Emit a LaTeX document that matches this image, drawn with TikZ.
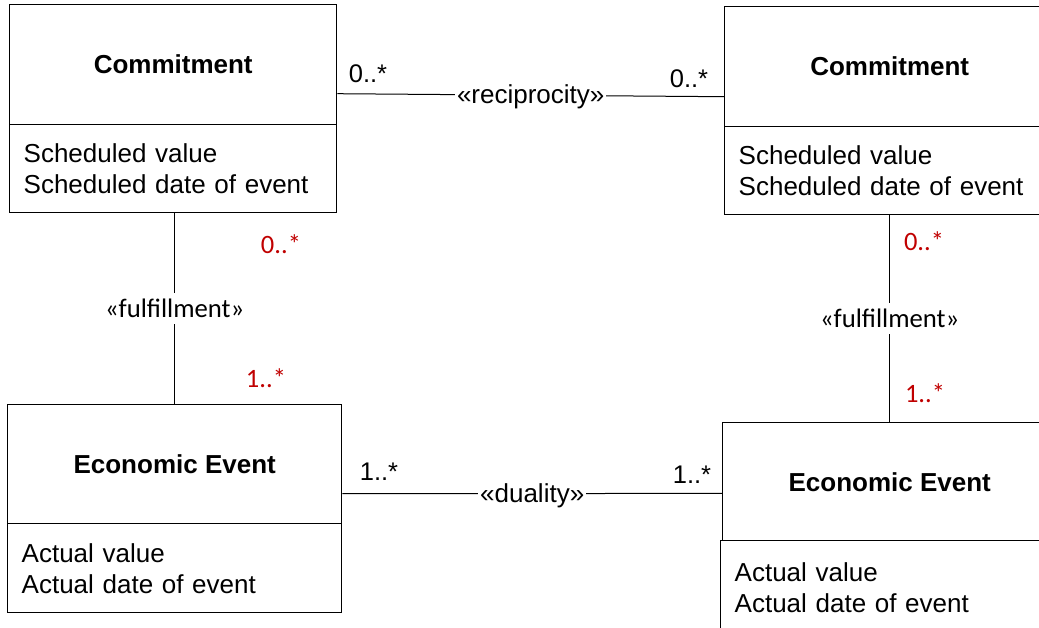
\documentclass[tikz,border=0pt]{standalone}
\usepackage{fontspec}
\newfontfamily\arialf{Liberation Sans}
\newfontfamily\calibrif{Carlito}
\definecolor{multred}{RGB}{192,0,0}
\begin{document}
\begin{tikzpicture}[x=1pt,y=-1pt,
  boxline/.style={draw=black, line width=1.4pt},
  classtitle/.style={boxline, rectangle, anchor=north west, inner sep=0pt,
    font=\arialf\bfseries\fontsize{26pt}{31pt}\selectfont},
  classattrs/.style={boxline, rectangle, anchor=north west, align=left,
    inner xsep=14pt, inner ysep=0pt, font=\arialf\fontsize{26pt}{31pt}\selectfont},
  assoc/.style={draw=black, line width=1pt},
  stereo/.style={fill=white, inner xsep=2pt, inner ysep=1pt, yshift=-2pt,
    font=\arialf\fontsize{26pt}{31pt}\selectfont},
  stereoc/.style={fill=white, inner xsep=2pt, inner ysep=6pt,
    font=\calibrif\fontsize{26.7pt}{32pt}\selectfont},
  mult/.style={anchor=base, inner sep=0pt, font=\arialf\fontsize{25.5pt}{30pt}\selectfont},
  multc/.style={anchor=base, inner sep=0pt, text=multred,
    font=\calibrif\fontsize{26.5pt}{32pt}\selectfont},
]
\useasboundingbox (0,0) rectangle (1039,627);
\clip (0,0) rectangle (1039,627);

% Commitment (left)
\node[classtitle, minimum width=327pt, minimum height=120pt] (c1t) at (9,4) {Commitment};
\node[classattrs, text width=299pt, minimum height=88pt] (c1a) at (9,124)
  {Scheduled value\\Scheduled date of event};

% Commitment (right)
\node[classtitle, minimum width=330pt, minimum height=120pt] (c2t) at (724,6) {Commitment};
\node[classattrs, text width=302pt, minimum height=88pt] (c2a) at (724,126)
  {Scheduled value\\Scheduled date of event};

% Economic Event (left)
\node[classtitle, minimum width=334pt, minimum height=119pt] (e1t) at (7,404) {Economic Event};
\node[classattrs, text width=306pt, minimum height=89pt] (e1a) at (7,523)
  {Actual value\\Actual date of event};

% Economic Event (right)
\node[classtitle, minimum width=334pt, minimum height=118pt] (e2t) at (722,422) {Economic Event};
\node[classattrs, text width=308pt, minimum height=94pt] (e2a) at (720,540)
  {Actual value\\Actual date of event};

% associations
\draw[assoc] ([yshift=-29pt]c1t.east) -- node[stereo] (s1) {«reciprocity»} ([yshift=-30pt]c2t.west);
\draw[assoc] ([yshift=-29.5pt]e1t.east) -- node[stereo] (s2) {«duality»} ([yshift=-11.7pt]e2t.west);
\draw[assoc] (e1t.north |- c1a.south) -- node[stereoc] (s3) {«fulfillment»} (e1t.north);
\draw[assoc] (c2a.south) -- node[stereoc] (s4) {«fulfillment»} (c2a.south |- e2t.north);

% multiplicities
\node[mult] (m1) at (368,82) {0..*};
\node[mult] (m2) at (689,87) {0..*};
\node[mult] (m3) at (379,480) {1..*};
\node[mult] (m4) at (692,483) {1..*};
\node[multc] (m5) at (281,253) {0..*};
\node[multc] (m6) at (266,387) {1..*};
\node[multc] (m7) at (924,250) {0..*};
\node[multc] (m8) at (925,402) {1..*};
\end{tikzpicture}
\end{document}
